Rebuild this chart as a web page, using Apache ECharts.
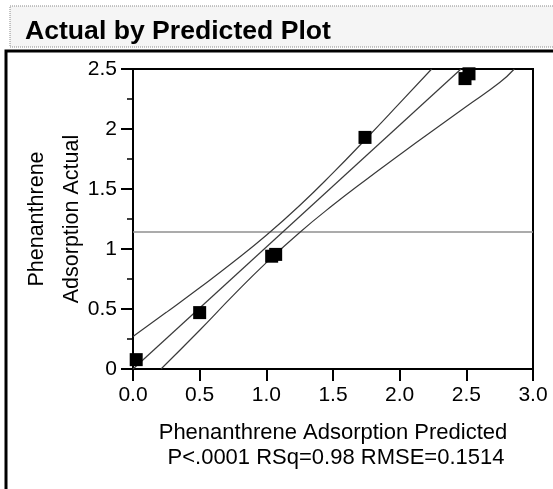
<!DOCTYPE html>
<html>
<head>
<meta charset="utf-8">
<script src="https://cdn.jsdelivr.net/npm/echarts@6/dist/echarts.min.js"></script>
<style>
html,body{margin:0;padding:0;background:#fff;}
#c{width:553px;height:489px;}
</style>
</head>
<body>
<div id="c"></div>
<script>
// ---- data ----
const titleText = 'Actual by Predicted Plot';
const xAxisTitle = 'Phenanthrene Adsorption Predicted';
const yAxisTitle = 'Phenanthrene\nAdsorption Actual';
const statsText = 'P<.0001 RSq=0.98 RMSE=0.1514';

// observed points [predicted, actual]
const points = [
  [0.024, 0.078],
  [0.50, 0.47],
  [1.04, 0.94],
  [1.07, 0.955],
  [1.74, 1.93],
  [2.49, 2.42],
  [2.52, 2.46]
];
// fitted line
const fitLine = [[0.0, 0.0], [2.46, 2.5]];
// upper confidence curve
const upperCurve = [
  [0.0, 0.27], [0.25, 0.472], [0.5, 0.677], [0.75, 0.889], [1.0, 1.114],
  [1.25, 1.362], [1.5, 1.634], [1.75, 1.921], [2.0, 2.215], [2.24, 2.5]
];
// lower confidence curve
const lowerCurve = [
  [0.21, 0.0], [0.5, 0.323], [0.75, 0.611], [1.0, 0.886], [1.25, 1.138],
  [1.5, 1.366], [1.75, 1.579], [2.0, 1.785], [2.25, 1.988], [2.5, 2.188],
  [2.75, 2.387], [2.86, 2.5]
];
// mean of actual (horizontal reference line)
const meanLine = [[0, 1.141], [3, 1.141]];

const FONT = "'Liberation Sans', Arial, Helvetica, sans-serif";

const chart = echarts.init(document.getElementById('c'), null, {renderer: 'canvas'});

const lineStyleCurve = {color: '#3a3a3a', width: 1.2};

chart.setOption({
  animation: false,
  backgroundColor: '#fff',
  textStyle: {fontFamily: FONT},
  graphic: [
    {
      type: 'rect', z: 0,
      shape: {x: 10, y: 6, width: 560, height: 41},
      style: {fill: '#f5f5f5', stroke: '#8a8a8a', lineWidth: 1, lineDash: [1, 1]}
    },
    {
      type: 'text', z: 5, left: 25, top: 18,
      style: {text: titleText, fill: '#000', font: 'bold 26.6px ' + FONT}
    },
    {
      type: 'polyline', z: 5,
      shape: {points: [[6, 489], [6, 51], [553, 51]]},
      style: {stroke: '#000', lineWidth: 3, fill: null}
    },
    {
      type: 'text', z: 5,
      x: 55, y: 219, rotation: Math.PI / 2,
      style: {text: yAxisTitle, fill: '#000', font: '21.5px ' + FONT, lineHeight: 35,
        align: 'center', verticalAlign: 'middle'}
    },
    {
      type: 'text', z: 5,
      x: 336, y: 458,
      style: {text: statsText, fill: '#000', font: '22px ' + FONT, align: 'center', verticalAlign: 'middle'}
    }
  ],
  grid: {
    left: 133, top: 69, width: 400, height: 300,
    show: true, borderColor: '#000', borderWidth: 2, backgroundColor: 'transparent'
  },
  xAxis: {
    type: 'value', min: 0, max: 3, interval: 0.5,
    name: xAxisTitle, nameLocation: 'middle', nameGap: 53,
    nameTextStyle: {fontSize: 22, color: '#000', fontFamily: FONT},
    axisLine: {show: true, onZero: false, lineStyle: {color: '#000', width: 2}},
    axisTick: {show: true, length: 12, lineStyle: {color: '#000', width: 2}},
    axisLabel: {fontSize: 21, color: '#000', margin: 16, fontFamily: FONT,
      formatter: v => v.toFixed(1)},
    splitLine: {show: false}
  },
  yAxis: {
    type: 'value', min: 0, max: 2.5, interval: 0.5,
    axisLine: {show: true, onZero: false, lineStyle: {color: '#000', width: 2}},
    axisTick: {show: true, length: 12, lineStyle: {color: '#000', width: 2}},
    minorTick: {show: true, splitNumber: 2, length: 6, lineStyle: {color: '#000', width: 1.5}},
    axisLabel: {fontSize: 21, color: '#000', margin: 16, fontFamily: FONT},
    splitLine: {show: false}
  },
  series: [
    {
      type: 'line', data: meanLine, symbol: 'none', silent: true,
      lineStyle: {color: '#8f8f8f', width: 1.5}, z: 2
    },
    {
      type: 'line', data: upperCurve, symbol: 'none', smooth: true, silent: true,
      lineStyle: lineStyleCurve, z: 3
    },
    {
      type: 'line', data: lowerCurve, symbol: 'none', smooth: true, silent: true,
      lineStyle: lineStyleCurve, z: 3
    },
    {
      type: 'line', data: fitLine, symbol: 'none', silent: true,
      lineStyle: lineStyleCurve, z: 3
    },
    {
      type: 'scatter', data: points, symbol: 'rect', symbolSize: 13,
      itemStyle: {color: '#000', opacity: 1}, z: 4
    }
  ]
});
</script>
</body>
</html>
